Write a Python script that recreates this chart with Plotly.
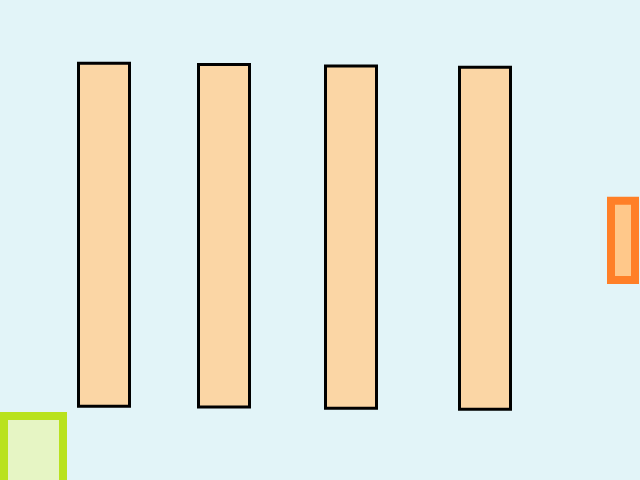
import plotly.graph_objects as go

# Data
bar_x = [104, 224, 351, 485]
bar_base = [73.8, 73.0, 71.8, 70.8]
bar_top = [416.8, 415.5, 414.0, 412.8]
bar_height = [t - b for t, b in zip(bar_top, bar_base)]

BG = "#E2F4F8"
BAR_FILL = "#FBD6A5"

fig = go.Figure()
fig.add_trace(go.Bar(
    x=bar_x, y=bar_height, base=bar_base, width=51,
    marker=dict(color=BAR_FILL, line=dict(color="black", width=3)),
    hoverinfo="skip", showlegend=False,
))

fig.update_layout(
    width=640, height=480,
    margin=dict(l=0, r=0, t=0, b=0),
    paper_bgcolor=BG, plot_bgcolor=BG,
    xaxis=dict(range=[0, 640], visible=False, fixedrange=True),
    yaxis=dict(range=[0, 480], visible=False, fixedrange=True),
    showlegend=False,
    shapes=[
        dict(type="rect", xref="paper", yref="paper",
             x0=611/640, x1=635/640, y0=1-280/480, y1=1-200.7/480,
             line=dict(color="#FF7F27", width=8), fillcolor="#FFC88A", layer="above"),
        dict(type="rect", xref="paper", yref="paper",
             x0=4/640, x1=63/640, y0=-4/480, y1=1-416/480,
             line=dict(color="#B9E21E", width=8), fillcolor="#E6F5C4", layer="above"),
    ],
)

post = ("document.body.style.margin='0';document.body.style.padding='0';"
        "document.body.style.overflow='hidden';"
        "document.body.style.background='" + BG + "';")
fig.write_html("out.html", config=dict(displayModeBar=False), post_script=post)
